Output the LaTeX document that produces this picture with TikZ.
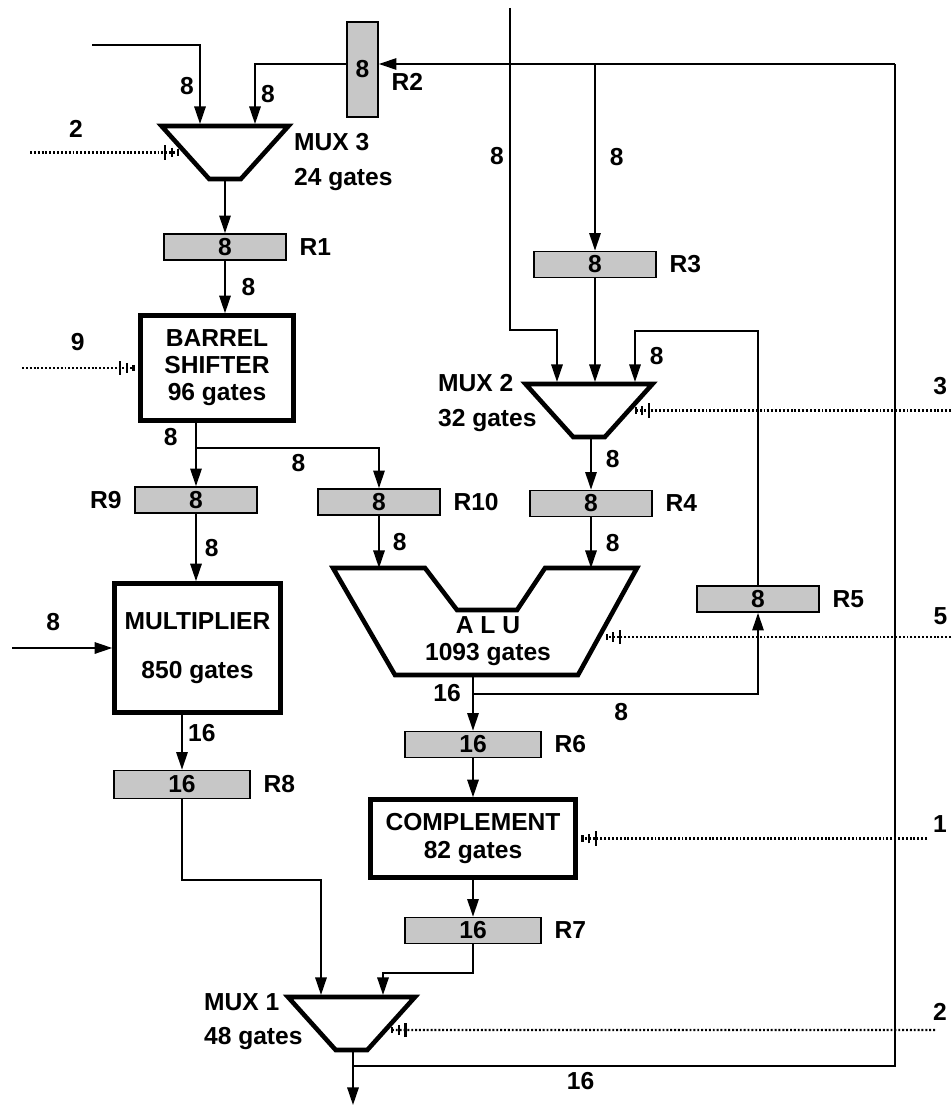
\documentclass[tikz,border=0pt]{standalone}
\usepackage{fontspec}
\setmainfont{Liberation Sans}
\usetikzlibrary{arrows.meta, calc}

\begin{document}
\begin{tikzpicture}[
  x=0.02cm, y=-0.02cm,
  label distance=6pt,
  every node/.style={font=\fontsize{14}{15.4}\selectfont\bfseries, text=black},
  reg/.style={
    draw,
    line width=1pt,
    fill=black!22,
    minimum width=2.44cm,
    minimum height=0.52cm,
    inner sep=0pt,
  },
  longreg/.style={reg, minimum width=2.72cm},
  unitbox/.style={
    draw,
    line width=2.6pt,
    fill=white,
    align=center,
    inner sep=0pt,
  },
  muxgate/.pic={
    \draw[line width=2.6pt, fill=white]
      (-63.5,-26.5) -- (63.5,-26.5) -- (15.8,26.5) -- (-15.8,26.5) -- cycle;
  },
  wire/.style={line width=1pt},
  bus/.style={wire, -{Triangle[length=10pt, width=6.5pt]}},
  ctrl/.style={
    line width=1.3pt,
    dash pattern=on 1.1pt off 1.1pt,
    -{Bar[width=8pt, sep=2.5pt]Bar[width=5.5pt, sep=2.5pt]Bar[width=3.5pt]},
    shorten >=2pt,
  },
  lbl/.style={inner sep=1pt},
]
  \useasboundingbox (0,0) rectangle (951,1108);

  % multiplexers
  \coordinate (mux3) at (225,152.5);
  \coordinate (mux2) at (589,410.5);
  \coordinate (mux1) at (351.5,1023.5);
  \pic at (mux3) {muxgate};
  \pic at (mux2) {muxgate};
  \pic at (mux1) {muxgate};
  \node[lbl, anchor=west, align=left] (mux3lbl) at (292,162) {MUX 3\\[4pt]24 gates};
  \node[lbl, anchor=west, align=left] (mux2lbl) at (436,403) {MUX 2\\[4pt]32 gates};
  \node[lbl, anchor=west, align=left] (mux1lbl) at (202,1022) {MUX 1\\[4pt]48 gates};

  \coordinate (m3a) at ($(mux3)+(-25,-28.5)$);
  \coordinate (m3b) at ($(mux3)+(30,-28.5)$);
  \coordinate (m3o) at ($(mux3)+(0,28.5)$);
  \coordinate (m3s) at ($(mux3)+(-42,0)$);
  \coordinate (m2a) at ($(mux2)+(-32,-28.5)$);
  \coordinate (m2b) at ($(mux2)+(6,-28.5)$);
  \coordinate (m2c) at ($(mux2)+(46,-28.5)$);
  \coordinate (m2o) at ($(mux2)+(2,28.5)$);
  \coordinate (m2s) at ($(mux2)+(42,0)$);
  \coordinate (m1a) at ($(mux1)+(-30.5,-28.5)$);
  \coordinate (m1b) at ($(mux1)+(31.5,-28.5)$);
  \coordinate (m1o) at ($(mux1)+(1.5,28.5)$);
  \coordinate (m1s) at ($(mux1)+(36,6.5)$);

  % functional units
  \node[unitbox, minimum width=3.06cm, minimum height=2.1cm] (bs) at (217,368) {BARREL\\SHIFTER\\96 gates};
  \node[unitbox, minimum width=3.32cm, minimum height=2.58cm] (mult) at (197.5,648) {MULTIPLIER\\[12.5pt]850 gates};
  \node[unitbox, minimum width=4.1cm, minimum height=1.56cm] (comp) at (473,838.5) {COMPLEMENT\\[1pt]82 gates};
  \draw[line width=2.6pt, fill=white] (333,568) coordinate (alu-a) -- (425,568) -- (457,610) -- (517,610)
    -- (545,568) -- (637,568) -- (578,675) -- (395,675) coordinate (alu-h) -- cycle;
  \node[lbl, align=center] (alu) at (488,641.5) {A L U\\1093 gates};
  \coordinate (alu-s) at (602,637);
  \coordinate (alu-o) at (473,675);

  % registers
  \node[reg, minimum width=0.62cm, minimum height=1.9cm,
        label={[lbl, yshift=-0.25cm]east:R2}] (r2) at (362.5,69.5) {8};
  \node[reg, label={[lbl]east:R1}] (r1) at (225,247) {8};
  \node[reg, label={[lbl]east:R3}] (r3) at (595,264.5) {8};
  \node[reg, label={[lbl]west:R9}] (r9) at (196,500) {8};
  \node[reg, label={[lbl]east:R10}] (r10) at (379,502) {8};
  \node[reg, label={[lbl]east:R4}] (r4) at (591,503.5) {8};
  \node[reg, label={[lbl]east:R5}] (r5) at (758,599) {8};
  \node[longreg, label={[lbl]east:R6}] (r6) at (473,744.5) {16};
  \node[longreg, label={[lbl]east:R7}] (r7) at (473,930.5) {16};
  \node[longreg, minimum height=0.56cm, label={[lbl]east:R8}] (r8) at (182,784.5) {16};

  % free ends and junctions
  \coordinate (in3) at (92,45);
  \coordinate (in2) at (510,8);
  \coordinate (inm) at (12,648);
  \coordinate (out1) at (353,1105);
  \coordinate (fbk) at (895,64);
  \coordinate (fbj) at (353,1066);
  \coordinate (bsj) at (196,448);
  \coordinate (aluj) at (473,694);
  \coordinate (sel3) at (30,152.5);
  \coordinate (shf) at (22,368);
  \coordinate (sel2) at (951,410.5);
  \coordinate (fn) at (951,637);
  \coordinate (cpl) at (927,838.5);
  \coordinate (sel1) at (935,1030);

  % data paths
  \draw[bus] (in3) -| node[lbl, pos=0.76, left=2pt] {8} (m3a);
  \draw[bus] (r2.west |- fbk) -| node[lbl, pos=0.75, right=2pt] {8} (m3b);
  \draw[bus] (fbk) -- (r2.east |- fbk);
  \draw[wire] (fbj) -| node[lbl, pos=0.21, below=2pt] {16} (fbk);
  \draw[bus] (r3.north |- fbk) -- node[lbl, right=7pt] {8} (r3.north);
  \draw[bus] (m3o) -- (r1.north);
  \draw[bus] (r1.south) -- node[lbl, right=8pt] {8} (r1.south |- bs.north);
  \draw[bus] (r9.north |- bs.south) -- node[lbl, pos=0.23, left=9pt] {8} (r9.north);
  \draw[bus] (bsj) -| node[lbl, pos=0.28, below=2pt] {8} (r10.north);
  \draw[bus] (r9.south) -- node[lbl, right=3.5pt] {8} (r9.south |- mult.north);
  \draw[bus] (inm) -- node[lbl, pos=0.41, above=8.5pt] {8} (mult.west);
  \draw[bus] (r8.north |- mult.south) -- node[lbl, pos=0.33, right=2pt] {16} (r8.north);
  \draw[bus] (r8.south) |- ($(m1a)+(0,-115)$) -- (m1a);
  \draw[bus] (r7.south) |- ($(m1b)+(0,-22)$) -- (m1b);
  \draw[bus] (m1o) -- (out1);
  \draw[bus] (in2) |- node[lbl, pos=0.23, left=2pt] {8} ($(m2a)+(0,-52)$) -- (m2a);
  \draw[bus] (r3.south) -- (m2b);
  \draw[bus] (r5.north) |- ($(m2c)+(0,-51)$) -- node[lbl, right=7pt] {8} (m2c);
  \draw[bus] (m2o) -- node[lbl, pos=0.4, right=7pt] {8} (r4.north);
  \draw[bus] (r10.south) -- node[lbl, right=6.4pt] {8} (r10.south |- alu-a);
  \draw[bus] (r4.south) -- node[lbl, right=7pt] {8} (r4.south |- alu-a);
  \draw[bus] (alu-o) -- node[lbl, pos=0.33, left=5.5pt] {16} (r6.north);
  \draw[bus] (aluj) -| node[lbl, pos=0.26, below=4pt] {8} (r5.south);
  \draw[bus] (r6.south) -- (r6.south |- comp.north);
  \draw[bus] (comp.south) -- (comp.south |- r7.north);

  % control inputs
  \draw[ctrl] (sel3) -- node[lbl, pos=0.3, above=7pt] {2} (m3s);
  \draw[ctrl] (shf) -- node[lbl, pos=0.48, above=8pt] {9} (bs.west);
  \draw[ctrl] (sel2) -- node[lbl, pos=0.034, above=7.5pt] {3} (m2s);
  \draw[ctrl] (fn) -- node[lbl, pos=0.03, above=5.5pt] {5} (alu-s);
  \draw[ctrl] (cpl) -- node[lbl, pos=0, above=2pt, xshift=0.26cm] {1} (comp.east);
  \draw[ctrl] (sel1) -- node[lbl, pos=0, above=4pt, xshift=0.1cm] {2} (m1s);
\end{tikzpicture}
\end{document}
